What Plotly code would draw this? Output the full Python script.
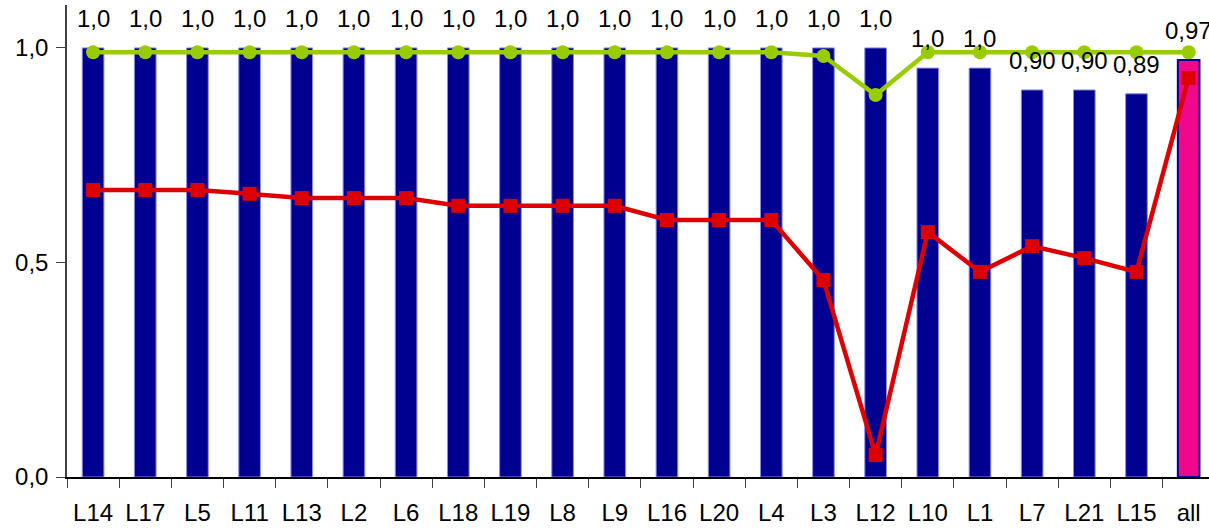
import plotly.graph_objects as go

categories = ["L14", "L17", "L5", "L11", "L13", "L2", "L6", "L18", "L19", "L8", "L9",
              "L16", "L20", "L4", "L3", "L12", "L10", "L1", "L7", "L21", "L15", "all"]
bar_values = [1.0, 1.0, 1.0, 1.0, 1.0, 1.0, 1.0, 1.0, 1.0, 1.0, 1.0,
              1.0, 1.0, 1.0, 1.0, 1.0, 0.953, 0.953, 0.902, 0.902, 0.893, 0.972]
bar_labels = ["1,0"] * 16 + ["1,0", "1,0", "0,90", "0,90", "0,89", "0,97"]
red_values = [0.669, 0.669, 0.669, 0.660, 0.650, 0.650, 0.650, 0.632, 0.632, 0.632, 0.632,
              0.599, 0.599, 0.599, 0.459, 0.051, 0.571, 0.478, 0.538, 0.510, 0.478, 0.930]
green_values = [0.990, 0.990, 0.990, 0.990, 0.990, 0.990, 0.990, 0.990, 0.990, 0.990, 0.990,
                0.990, 0.990, 0.990, 0.981, 0.890, 0.990, 0.990, 0.990, 0.990, 0.990, 0.990]
y_tick_vals = [0.0, 0.5, 1.0]
y_tick_text = ["0,0", "0,5", "1,0"]

FONT = "Liberation Sans, Arial, sans-serif"
NAVY = "#000090"
PINK = "#F0088C"

bar_colors = [NAVY] * (len(categories) - 1) + [PINK]
bar_line_colors = ["#8A8AE0"] * (len(categories) - 1) + [NAVY]
bar_line_widths = [1] * (len(categories) - 1) + [2]

fig = go.Figure()
fig.add_trace(go.Bar(
    x=categories, y=bar_values, width=0.415,
    marker=dict(color=bar_colors, line=dict(color=bar_line_colors, width=bar_line_widths)),
    showlegend=False, hoverinfo="skip",
))
fig.add_trace(go.Scatter(
    x=categories, y=red_values, mode="lines+markers",
    line=dict(color="#DD0000", width=4.5),
    marker=dict(symbol="square", size=14, color="#DD0000"),
    showlegend=False, hoverinfo="skip",
))
fig.add_trace(go.Scatter(
    x=categories, y=green_values, mode="lines+markers",
    line=dict(color="#99CC00", width=4.5),
    marker=dict(symbol="circle", size=14, color="#99CC00"),
    showlegend=False, hoverinfo="skip",
))

for c, v, t in zip(categories, bar_values, bar_labels):
    fig.add_annotation(x=c, y=v, text=t, showarrow=False, yanchor="bottom",
                       yshift=14, font=dict(family=FONT, size=24, color="black"))

fig.update_layout(
    width=1209, height=530,
    margin=dict(l=67, r=0, t=5, b=53),
    paper_bgcolor="white", plot_bgcolor="white",
    font=dict(family=FONT, size=24, color="black"),
)
fig.update_xaxes(
    type="category", range=[-0.5, 21.39],
    showline=True, linecolor="black", linewidth=1.5,
    ticks="outside", tickson="boundaries", ticklen=9, tickcolor="#404040", tickwidth=1,
    ticklabelstandoff=13,
    showgrid=False, zeroline=False,
    tickfont=dict(family=FONT, size=24, color="black"),
)
fig.update_yaxes(
    range=[0, 1.1], tickvals=y_tick_vals, ticktext=y_tick_text,
    showline=True, linecolor="#404040", linewidth=1.5,
    ticks="outside", ticklen=9, tickcolor="#404040", tickwidth=1,
    ticklabelstandoff=3,
    showgrid=False, zeroline=False,
    tickfont=dict(family=FONT, size=24, color="black"),
)

# remove the default 8px page margin so the figure fills the window exactly
fig.write_html("out.html", config={"displayModeBar": False},
               post_script="document.body.style.margin='0px';")
